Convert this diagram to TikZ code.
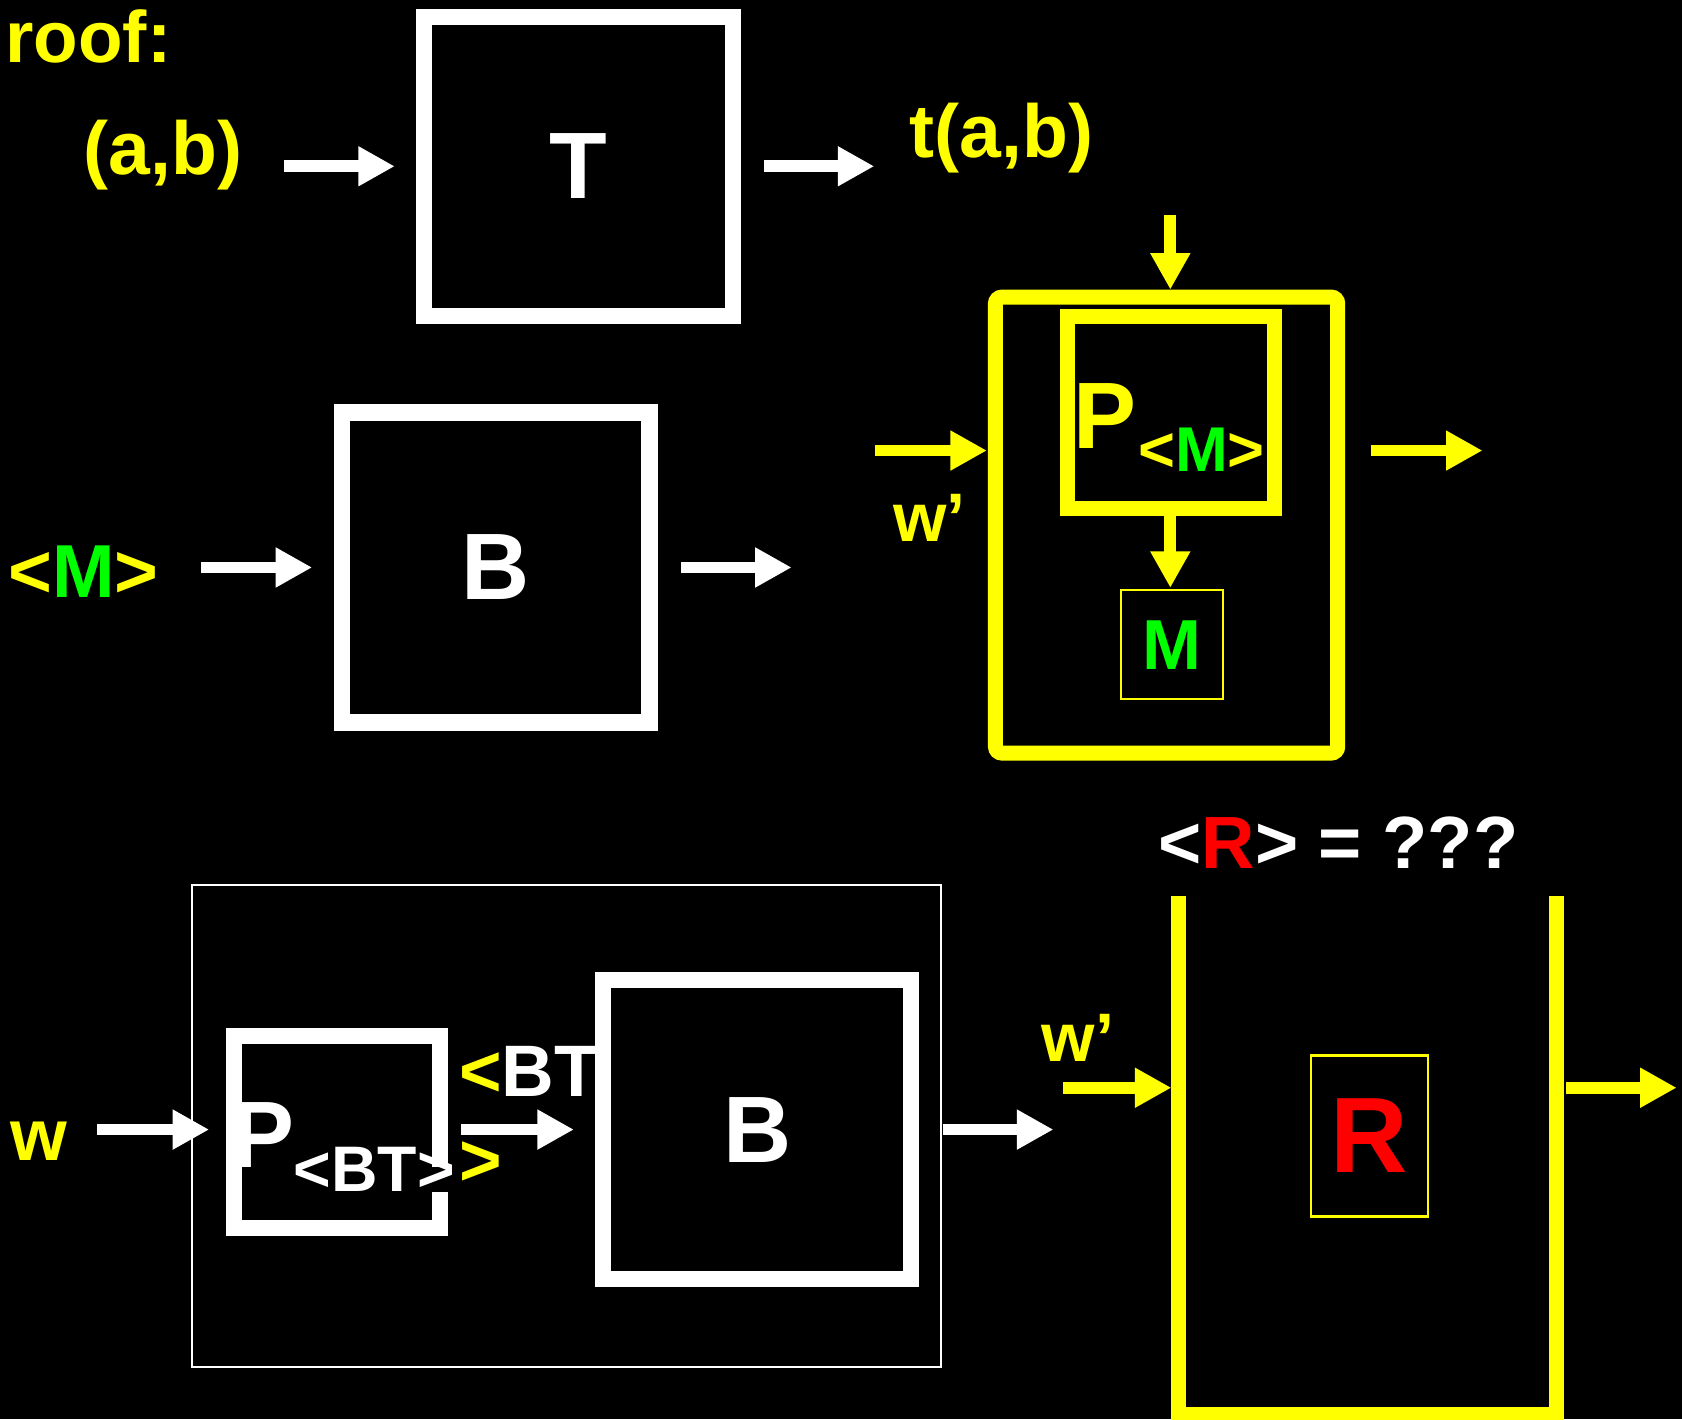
\documentclass[tikz,border=0pt]{standalone}
\usepackage{fontspec}
\setmainfont{Liberation Sans}
\usetikzlibrary{arrows.meta}
\definecolor{yl}{RGB}{255,255,0}
\definecolor{gr}{RGB}{0,255,0}
\definecolor{rd}{RGB}{255,0,0}
\newcommand{\fsz}[1]{\fontsize{#1}{#1}\selectfont\bfseries}
\begin{document}
\begin{tikzpicture}[x=1pt,y=-1pt,
  txt/.style={inner sep=0pt,outer sep=0pt},
  box/.style={draw,fill=black,line width=15pt,inner sep=0pt,outer sep=0pt},
  thinbox/.style={draw,line width=2pt,inner sep=0pt,outer sep=0pt},
  arr/.style={line width=11pt,-{Triangle[length=34pt,width=35pt]}}]
\fill[black] (0,0) rectangle (1568,1323);
\useasboundingbox (0,0) rectangle (1568,1323);

% ---------- top row ----------
\node[txt,anchor=base west,text=yl] (roof) at (5,58) {\fsz{68}roof:};
\node[txt,anchor=base west,text=yl] (ab) at (78,163) {\fsz{70}(a,b)};
\node[box,draw=white,text=white,minimum width=288pt,minimum height=279pt] (Tbox) at (539.5,155) {\fsz{88}T};
\node[txt,anchor=base west,text=yl] (tab) at (848,147) {\fsz{70}t(a,b)};
\coordinate (a1s) at (265,155); \coordinate (a1e) at (368,155);
\coordinate (a2s) at (712,155); \coordinate (a2e) at (815,155);
\draw[arr,white] (a1s) -- (a1e);
\draw[arr,white] (a2s) -- (a2e);

% ---------- middle row ----------
\node[txt,anchor=base west] (Mlab) at (8,557) {\fsz{70}\textcolor{yl}{<}\textcolor{gr}{M}\textcolor{yl}{>}};
\node[box,draw=white,text=white,minimum width=287pt,minimum height=289pt] (Bmid) at (462,529) {\fsz{88}B};
\coordinate (a3s) at (187,529); \coordinate (a3e) at (291,529);
\coordinate (a4s) at (635,529); \coordinate (a4e) at (738,529);
\draw[arr,white] (a3s) -- (a3e);
\draw[arr,white] (a4s) -- (a4e);

\node[box,draw=yl,line width=14pt,rounded corners=6pt,minimum width=319pt,minimum height=425pt] (Ybox) at (1087.5,489.5) {};
\node[box,draw=yl,line width=14pt,minimum width=193pt,minimum height=179pt] (Pbox) at (1091.5,384.5) {};
\node[txt,anchor=base west,text=yl] (Plab) at (1001,418) {\fsz{88}P};
\node[txt,anchor=base west] (PMsub) at (1061,440) {\fsz{59}\textcolor{yl}{<}\textcolor{gr}{M}\textcolor{yl}{>}};
\node[thinbox,draw=yl,text=gr,minimum width=95pt,minimum height=102pt] (Mbox) at (1092.5,601) {\fsz{66}M};
\node[txt,anchor=base west,text=yl] (wp1) at (833,505) {\fsz{64}w’};
\coordinate (a5s) at (816,420); \coordinate (a5e) at (920,420);
\coordinate (a6s) at (1278,420); \coordinate (a6e) at (1382,420);
\coordinate (a7s) at (1091,200); \coordinate (a7e) at (1091,270);
\coordinate (a8s) at (1091,481); \coordinate (a8e) at (1091,548);
\draw[arr,yl] (a5s) -- (a5e);
\draw[arr,yl] (a6s) -- (a6e);
\draw[arr,yl] (a7s) -- (a7e);
\draw[arr,yl] (a8s) -- (a8e);

% ---------- bottom row ----------
\node[thinbox,draw=white,minimum width=698pt,minimum height=449pt] (Big) at (528,1049.5) {};
\node[box,draw=white,minimum width=192pt,minimum height=179pt] (PBbox) at (314.5,1055) {};
\node[txt,anchor=base west] (ltBT) at (428,1022) {\fsz{68}\textcolor{yl}{<}\textcolor{white}{BT}};
\node[box,draw=white,text=white,minimum width=287pt,minimum height=279pt] (Bbot) at (706,1053) {\fsz{88}B};
\fill[black] (403,1088) rectangle (418,1111);
\node[txt,anchor=base west,text=white] (PBlab) at (216,1088) {\fsz{88}P};
\node[txt,anchor=base west,text=white] (BTsub) at (274,1111) {\fsz{60}<BT>};
\node[txt,anchor=base west,text=yl] (gtY) at (428,1105) {\fsz{68}>};
\node[txt,anchor=base west,text=yl] (wlab) at (10,1082) {\fsz{68}w};
\coordinate (a9s) at (90,1053); \coordinate (a9e) at (195,1053);
\coordinate (a10s) at (430,1053); \coordinate (a10e) at (535,1053);
\coordinate (a11s) at (879,1053); \coordinate (a11e) at (982,1053);
\draw[arr,white] (a9s) -- (a9e);
\draw[arr,white] (a10s) -- (a10e);
\draw[arr,white] (a11s) -- (a11e);

\node[txt,anchor=base west,text=white] (Rq) at (1080,810) {\fsz{69}<\textcolor{rd}{R}> = ???};
\coordinate (rl) at (1099,835); \coordinate (rlb) at (1099,1319);
\coordinate (rrb) at (1451,1319); \coordinate (rr) at (1451,835);
\draw[yl,line width=14pt] (rl) -- (rlb) -- (rrb) -- (rr);
\node[thinbox,draw=yl,text=rd,minimum width=109pt,minimum height=150pt] (Rbox) at (1276.5,1059) {\fsz{100}R};
\node[txt,anchor=base west,text=yl] (wp2) at (971,990) {\fsz{64}w’};
\coordinate (a12s) at (991,1014); \coordinate (a12e) at (1092,1014);
\coordinate (a13s) at (1460,1014); \coordinate (a13e) at (1563,1014);
\draw[arr,yl] (a12s) -- (a12e);
\draw[arr,yl] (a13s) -- (a13e);
\end{tikzpicture}
\end{document}
